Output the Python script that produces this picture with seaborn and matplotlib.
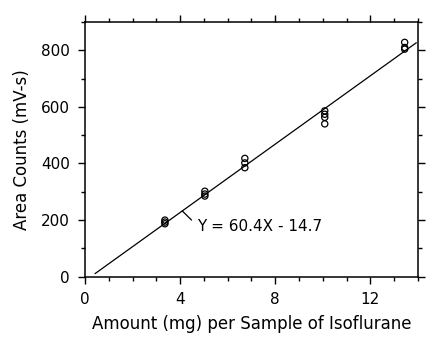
import numpy as np
import pandas as pd
import matplotlib
matplotlib.use("Agg")
import matplotlib.pyplot as plt
import seaborn as sns

# Replicate injections at each spiking level
amount_mg = [3.36, 3.36, 3.36,
             5.04, 5.04, 5.04,
             6.72, 6.72, 6.72,
             10.08, 10.08, 10.08, 10.08,
             13.44, 13.44, 13.44]
area_counts = [200, 193, 187,
               302, 292, 285,
               418, 402, 385,
               586, 574, 563, 540,
               828, 810, 804]

# Least-squares fit reported on the plot
slope = 60.4
intercept = -14.7
fit_x = [0.42, 13.93]

x_ticks = [0, 4, 8, 12]
y_ticks = [0, 200, 400, 600, 800]

sns.set_theme(style="ticks")
plt.rcParams["font.family"] = ["DejaVu Sans"]

df = pd.DataFrame({"amount": amount_mg, "area": area_counts})
fit = pd.DataFrame({"amount": fit_x,
                    "area": [slope * v + intercept for v in fit_x]})

fig = plt.figure(figsize=(4.37, 3.41), dpi=100)
ax = fig.add_axes([0.1945, 0.1886, 0.762, 0.7469])

sns.lineplot(data=fit, x="amount", y="area", ax=ax, color="black",
             linewidth=0.9, legend=False)
sns.scatterplot(data=df, x="amount", y="area", ax=ax, marker="o", s=20,
                facecolor="none", edgecolor="black", linewidth=0.9,
                legend=False)

ax.set_xlim(0, 14)
ax.set_ylim(0, 900)
ax.set_xticks(x_ticks)
ax.set_yticks(y_ticks)
ax.set_xticks(np.arange(0, 15, 1), minor=True)
ax.set_yticks(np.arange(0, 901, 100), minor=True)

for side in ["left", "right", "top", "bottom"]:
    ax.spines[side].set_visible(True)
    ax.spines[side].set_linewidth(1.1)
    ax.spines[side].set_color("black")

ax.tick_params(axis="both", which="major", direction="out", length=5,
               width=1.0, color="black", labelsize=11, labelcolor="black",
               top=True, right=True, labeltop=False, labelright=False)
ax.tick_params(axis="both", which="minor", direction="out", length=3,
               width=1.0, color="black", top=True, right=True)
ax.tick_params(axis="x", which="major", pad=6)
ax.tick_params(axis="y", which="major", pad=6)

ax.set_xlabel("Amount (mg) per Sample of Isoflurane", fontsize=12,
              color="black", labelpad=6)
ax.set_ylabel("Area Counts (mV-s)", fontsize=12, color="black",
              labelpad=7)

# Equation label with a short leader to the regression line
lead_x = 4.09
ax.annotate("", xy=(lead_x, slope * lead_x + intercept), xytext=(4.48, 200),
            arrowprops=dict(arrowstyle="-", color="black", lw=0.9,
                            shrinkA=0, shrinkB=0))
ax.text(4.72, 178, f"Y = {slope}X - {abs(intercept)}", fontsize=11,
        color="black", va="center", ha="left")

ax.grid(False)
fig.savefig("out.png", dpi=100, facecolor="white")
